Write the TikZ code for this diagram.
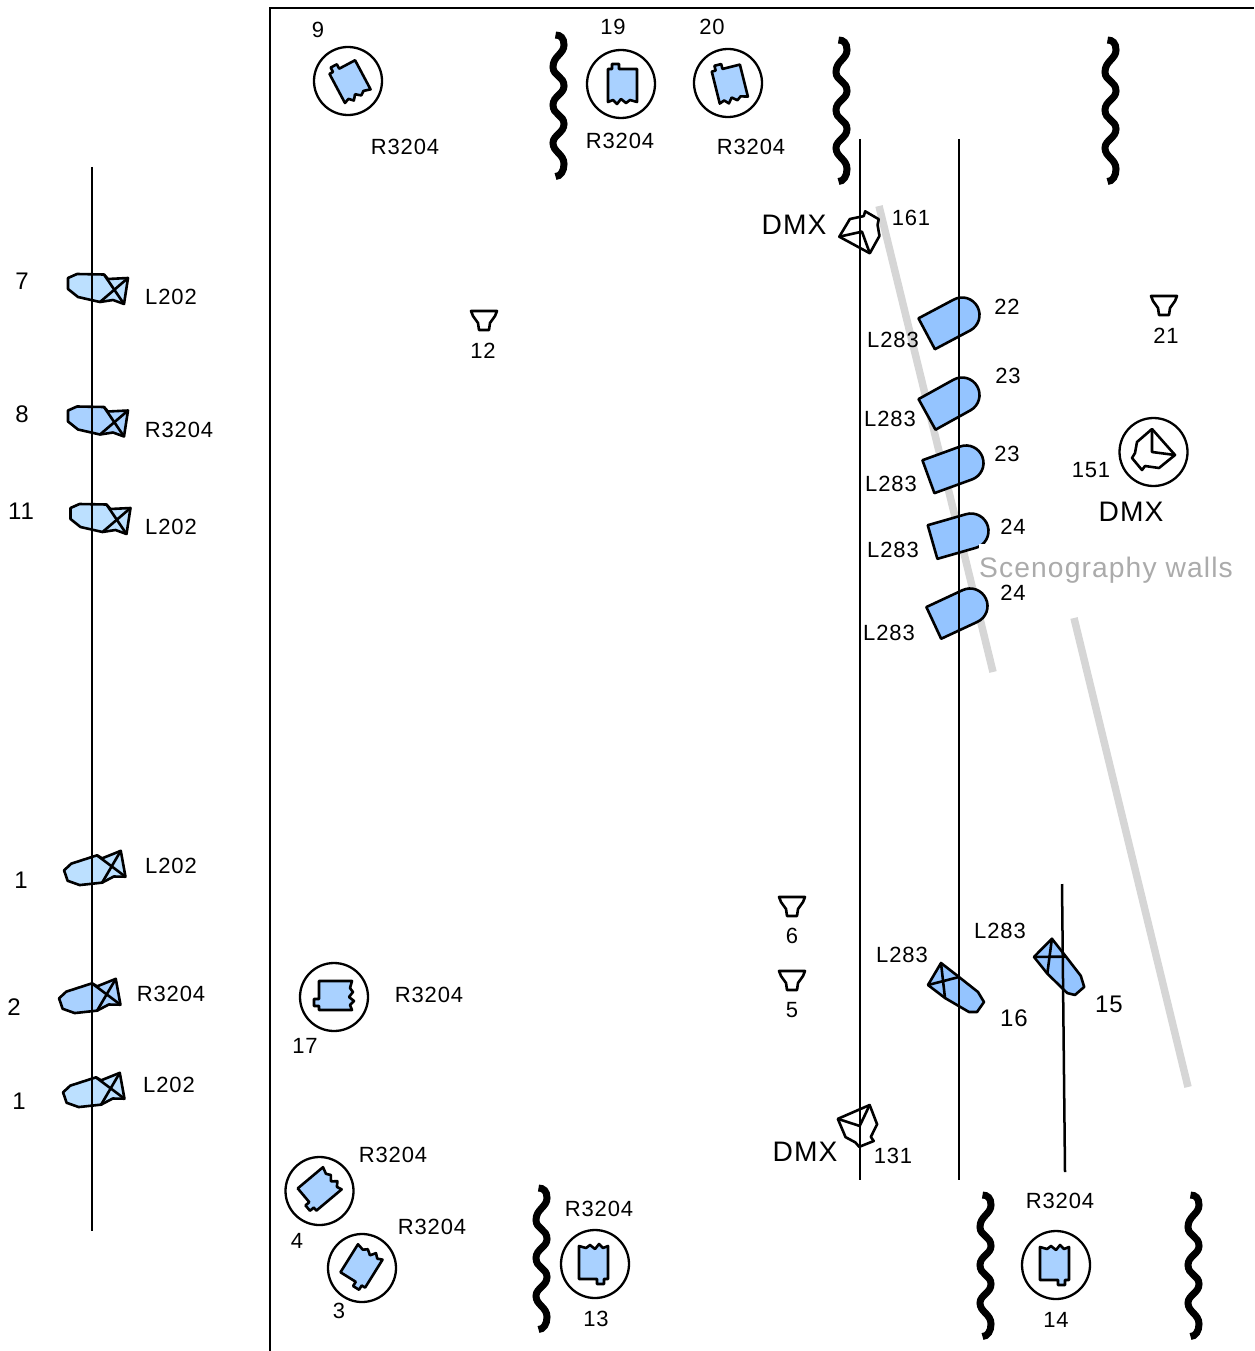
\documentclass[tikz,border=0pt]{standalone}
\usepackage{fontspec}
\setmainfont[LetterSpace=4]{Liberation Sans}
\definecolor{lampR}{HTML}{A9D1FF}
\definecolor{lampL}{HTML}{BCE0FF}
\definecolor{lampK}{HTML}{94C4FF}
\definecolor{wallgray}{HTML}{D6D6D6}
\definecolor{walltext}{HTML}{ABABAB}
\tikzstyle{lbl}=[inner sep=0pt,font=\fontsize{22}{24}\selectfont]
\tikzstyle{num}=[inner sep=0pt,font=\fontsize{24}{26}\selectfont]
\tikzstyle{dmx}=[inner sep=0pt,font=\fontsize{28.2}{31}\selectfont]
\tikzstyle{rail}=[line width=2.5pt]
\tikzstyle{wall}=[line width=7.5pt,draw=wallgray]
\tikzstyle{lampline}=[draw,line width=2.6pt,line join=round]
\tikzset{
  head/.pic={
    \draw[line width=2.3pt] (0,0) circle (34);
    \path[lampline,pic actions] (16,-15) -- (16,18) -- (9,16) -- (5,19) -- (0,15) -- (-4,20)
      -- (-8,16) -- (-13,18) -- (-13,-15) -- (-9,-15) -- (-9,-20) -- (-2,-20) -- (-2,-15) -- cycle;
  },
  wash/.pic={
    \path[lampline,pic actions] (-24,-10) -- (-15,-14) -- (12,-13.5) -- (16,-9) -- (36,-10) -- (32,16)
      -- (21,12) -- (8,14) -- (-14,9) -- (-24,1) -- cycle;
    \draw[lampline] (12,-13.5) -- (32,16);
    \draw[lampline] (8,14) -- (36,-10);
  },
  sidewash/.pic={
    \path[lampline,pic actions] (-32,-5) -- (-19,-27) -- (-1,-13) -- (18,2) -- (24,12) -- (17,22)
      -- (9,22) -- (-15,8) -- cycle;
    \draw[lampline] (-32,-5) -- (-1,-13);
    \draw[lampline] (-19,-27) -- (-15,8);
  },
  beam/.pic={
    \path[lampline,pic actions] (0,-17.5) -- (-40,-17.5) -- (-40,17.5) -- (0,17.5)
      .. controls (9.7,17.5) and (17.5,9.7) .. (17.5,0)
      .. controls (17.5,-9.7) and (9.7,-17.5) .. (0,-17.5) -- cycle;
  },
  cone/.pic={
    \path[lampline,fill=white] (-13,-9) -- (13,-9) -- (11,-4) -- (6,3) -- (5,10) -- (-5,10) -- (-6,3) -- (-11,-4) -- cycle;
  },
  moving/.pic={
    \path[lampline] (-1,-23) -- (22,3) -- (6,16) -- (-8,14) -- (-11,18) -- (-21,6) -- (-18,1) -- (-16,-10) -- cycle;
    \draw[lampline] (-1,-23) -- (-1,0) -- (22,3);
  },
  curtain/.pic={
    \draw[line width=7pt] (-3,3) .. controls (2,3) and (5.5,6) .. (5.5,13)
      .. controls (5.5,22) and (-5.5,24) .. (-5.5,35)
      .. controls (-5.5,44) and (5.5,44) .. (5.5,54)
      .. controls (5.5,62) and (-5.5,64) .. (-5.5,73)
      .. controls (-5.5,83) and (5.5,83) .. (5.5,92)
      .. controls (5.5,101) and (-5.5,103) .. (-5.5,111)
      .. controls (-5.5,120) and (5.5,122) .. (5.5,132)
      .. controls (5.5,139) and (2,144.5) .. (-3,144.5);
  }
}

\begin{document}
\begin{tikzpicture}[x=1pt,y=-1pt]
  \useasboundingbox (0,0) rectangle (1254,1351);

  % WALLS

  \coordinate (w1a) at (879,206);
  \coordinate (w1b) at (993,672);
  \coordinate (w2a) at (1074,618);
  \coordinate (w2b) at (1188,1087);
  \draw[wall] (w1a) -- (w1b);
  \draw[wall] (w2a) -- (w2b);

  % CURTAINS

  \pic (c1) at (558.5,32) {curtain};
  \pic (c2) at (841.5,37) {curtain};
  \pic (c3) at (1110.5,37) {curtain};
  \pic (c4) at (541.5,1185) {curtain};
  \pic (c5) at (985.5,1192) {curtain};
  \pic (c6) at (1193.5,1192) {curtain};

  % LEFT BAR

  \pic[fill=lampL] (f7) at (92,288) {wash};
  \pic[fill=lampR] (f8) at (92,420.5) {wash};
  \pic[fill=lampL] (f11) at (94.5,518) {wash};
  \pic[fill=lampL,rotate=19] (f1a) at (90,872) {wash};
  \pic[fill=lampR,rotate=19] (f2) at (85,1000) {wash};
  \pic[fill=lampL,rotate=19] (f1b) at (89,1094) {wash};

  \coordinate (b0a) at (92,167);
  \coordinate (b0b) at (92,1231);
  \draw[rail] (b0a) -- (b0b);

  \node[num] (n7) at (22,281) {7};
  \node[num] (n8) at (22,414) {8};
  \node[num] (n11) at (21,511) {11};
  \node[num] (n1a) at (21,880) {1};
  \node[num] (n2) at (14,1007) {2};
  \node[num] (n1b) at (19,1101) {1};
  \node[lbl] (g7) at (171,297) {L202};
  \node[lbl] (g8) at (179,430) {R3204};
  \node[lbl] (g11) at (171,527) {L202};
  \node[lbl] (g1a) at (171,866) {L202};
  \node[lbl] (g2) at (171,994) {R3204};
  \node[lbl] (g1b) at (169,1085) {L202};

  % FRAME

  \coordinate (fa) at (270,1351);
  \coordinate (fb) at (270,8);
  \coordinate (fc) at (1254,8);
  \draw[line width=2.5pt] (fa) -- (fb) -- (fc);

  % HEADS

  \pic[fill=lampR,rotate=28] (h9) at (348,81) {head};
  \pic[fill=lampR] (h19) at (621,84) {head};
  \pic[fill=lampR,rotate=14] (h20) at (728,83) {head};
  \pic[fill=lampR,rotate=90] (h17) at (334,997) {head};
  \pic[fill=lampR,rotate=130] (h4) at (319.5,1191) {head};
  \pic[fill=lampR,rotate=148] (h3) at (362,1268) {head};
  \pic[fill=lampR,rotate=180] (h13) at (595,1264) {head};
  \pic[fill=lampR,rotate=180] (h14) at (1056,1265) {head};

  \node[lbl] (n9) at (318,30) {9};
  \node[lbl] (n19) at (613,27) {19};
  \node[lbl] (n20) at (712,27) {20};
  \node[lbl] (g9) at (405,147) {R3204};
  \node[lbl] (g19) at (620,141) {R3204};
  \node[lbl] (g20) at (751,147) {R3204};
  \node[lbl] (n17) at (305,1046) {17};
  \node[lbl] (g17) at (429,995) {R3204};
  \node[lbl] (g4) at (393,1155) {R3204};
  \node[lbl] (n4) at (297,1241) {4};
  \node[lbl] (g3) at (432,1227) {R3204};
  \node[lbl] (n3) at (339,1311) {3};
  \node[lbl] (g13) at (599,1209) {R3204};
  \node[lbl] (n13) at (596,1319) {13};
  \node[lbl] (g14) at (1060,1201) {R3204};
  \node[lbl] (n14) at (1056,1320) {14};

  % CONES

  \pic (k12) at (484,320) {cone};
  \pic (k21) at (1164,305) {cone};
  \pic (k6) at (792,906) {cone};
  \pic (k5) at (792,980) {cone};
  \node[lbl] (n12) at (483,351) {12};
  \node[lbl] (n21) at (1166,336) {21};
  \node[lbl] (n6) at (792,936) {6};
  \node[lbl] (n5) at (792,1010) {5};

  % MOVING LIGHTS

  \draw[line width=2.3pt] (1153.5,452) circle (34);
  \pic (m151) at (1153,452) {moving};
  \pic[rotate=200] (m161) at (861,232) {moving};
  \pic[rotate=72] (m131) at (860,1125) {moving};
  \node[lbl] (n151) at (1091,470) {151};
  \node[dmx] (d151) at (1131,512) {DMX};
  \node[lbl] (n161) at (911,218) {161};
  \node[dmx] (d161) at (794,225) {DMX};
  \node[lbl] (n131) at (893,1156) {131};
  \node[dmx] (d131) at (805,1152) {DMX};

  % BEAMS

  \pic[fill=lampK,rotate=28] (b22) at (962,315) {beam};
  \pic[fill=lampK,rotate=29] (b23a) at (962,395) {beam};
  \pic[fill=lampK,rotate=20] (b23b) at (966,463) {beam};
  \pic[fill=lampK,rotate=16] (b24a) at (971,531) {beam};

  \node[dmx,fill=white,text=walltext,anchor=west,minimum height=53pt] (t1) at (979,570)
    {Scenography walls};

  \pic[fill=lampK,rotate=25] (b24b) at (970,606) {beam};

  % SIDE LIGHTS

  \pic[fill=lampK] (s16) at (960,990) {sidewash};
  \pic[fill=lampK,rotate=-14] (s15) at (1063.8,969.5) {sidewash};

  \coordinate (r1a) at (860,139);
  \coordinate (r1b) at (860,1180);
  \coordinate (r2a) at (959,139);
  \coordinate (r2b) at (959,1180);
  \coordinate (r3a) at (1062,884);
  \coordinate (r3b) at (1065,1172);
  \draw[rail] (r1a) -- (r1b);
  \draw[rail] (r2a) -- (r2b);
  \draw[rail] (r3a) -- (r3b);

  \node[lbl] (n22) at (1007,307) {22};
  \node[lbl] (g22) at (893,340) {L283};
  \node[lbl] (n23a) at (1008,376) {23};
  \node[lbl] (g23a) at (890,419) {L283};
  \node[lbl] (n23b) at (1007,454) {23};
  \node[lbl] (g23b) at (891,484) {L283};
  \node[lbl] (n24a) at (1013,527) {24};
  \node[lbl] (g24a) at (893,550) {L283};
  \node[lbl] (n24b) at (1013,593) {24};
  \node[lbl] (g24b) at (889,633) {L283};
  \node[lbl] (g16) at (902,955) {L283};
  \node[lbl] (g15) at (1000,931) {L283};
  \node[num] (n16) at (1014,1018) {16};
  \node[num] (n15) at (1109,1004) {15};
\end{tikzpicture}
\end{document}
